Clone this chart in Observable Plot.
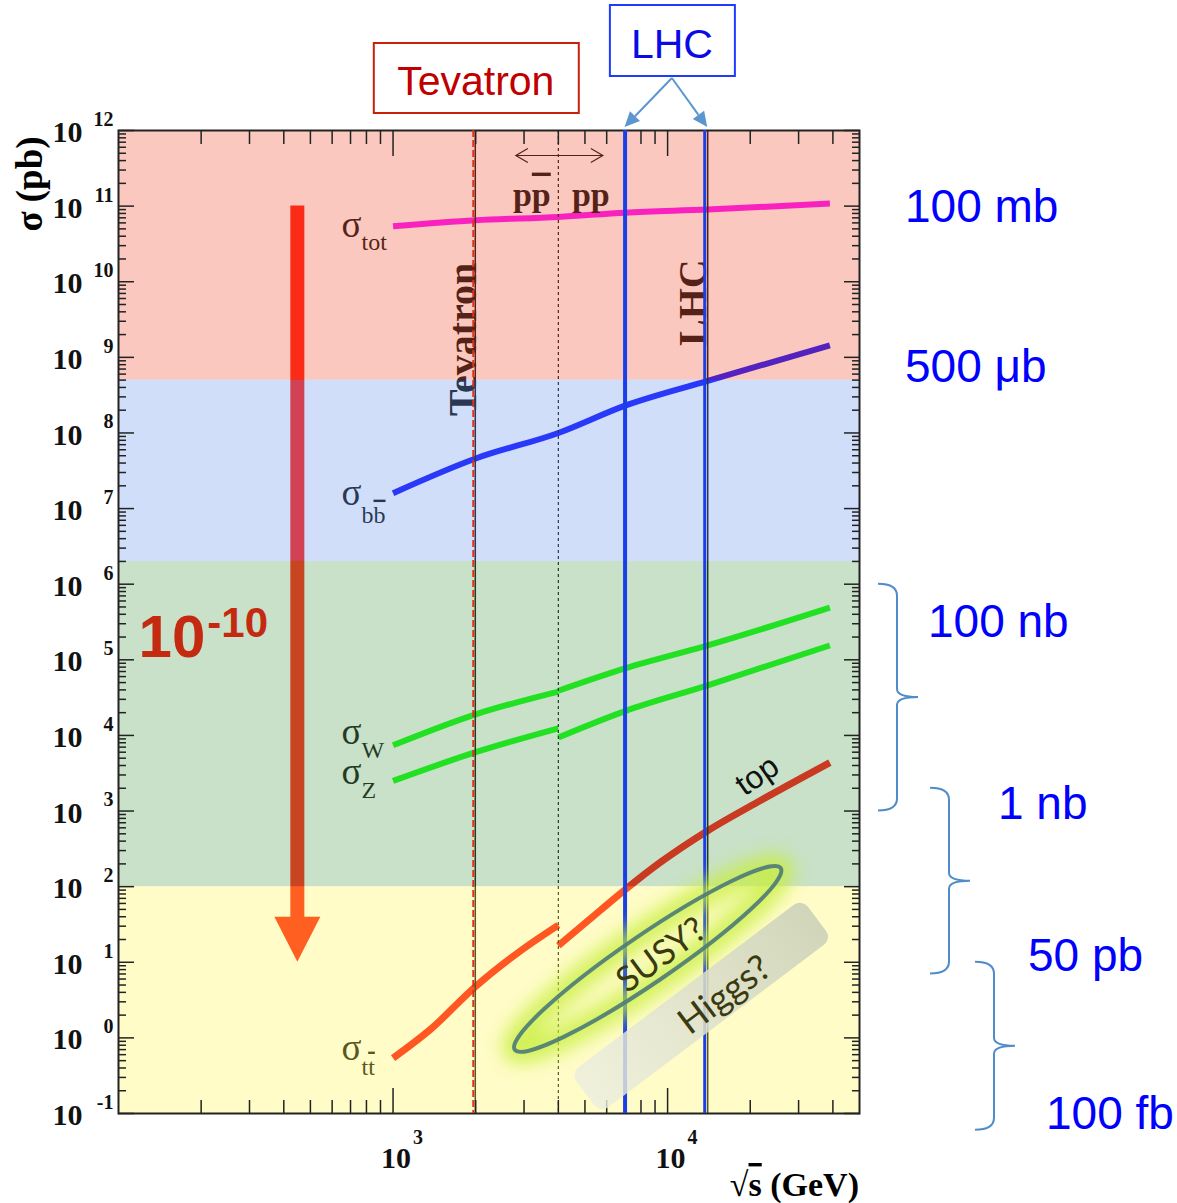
<!DOCTYPE html>
<html>
<head>
<meta charset="utf-8">
<script src="https://cdn.jsdelivr.net/npm/d3@7"></script>
<script src="https://cdn.jsdelivr.net/npm/@observablehq/plot@0.6"></script>
<style>
  html, body { margin: 0; padding: 0; background: #fff; }
  #chart { width: 1177px; height: 1203px; }
</style>
</head>
<body>
<div id="chart"></div>
<script>
// ---- Cross sections (pb) against centre-of-mass energy sqrt(s) (GeV) ----
const energyAll = [1000, 2000, 4000, 7000, 14000, 39000];
const sigmaTot = [5.4e10, 6.5e10, 7.2e10, 8.2e10, 9.0e10, 1.08e11];
const sigmaBB = [1.6e7, 4.6e7, 1.0e8, 2.3e8, 4.9e8, 1.44e9];

// W and Z: p-pbar branch below 4 TeV, pp branch above
const energyPPbar = [1000, 2000, 4000];
const energyPP = [4000, 7000, 14000, 39000];
const sigmaW_ppbar = [7.4e3, 1.9e4, 3.8e4];
const sigmaW_pp = [3.9e4, 7.7e4, 1.55e5, 4.9e5];
const sigmaZ_ppbar = [2.5e3, 6.0e3, 1.24e4];
const sigmaZ_pp = [9.4e3, 2.1e4, 4.6e4, 1.55e5];

// top-pair production
const energyTT_ppbar = [1000, 1370, 2000, 2900, 4000];
const sigmaTT_ppbar = [0.54, 1.3, 4.8, 14.0, 31];
const energyTT_pp = [4000, 5700, 7000, 9400, 14000, 21800, 39000];
const sigmaTT_pp = [16.6, 49, 91, 209, 550, 1380, 4370];

// collider energies (GeV)
const tevatron = 1960;
const ppSplit = 4000;
const lhcEnergies = [7000, 14000];

// rate bands (pb): lower edge, upper edge
const bandLow = [0.1, 100, 2e6, 5e8];
const bandHigh = [100, 2e6, 5e8, 1e12];
const bandColor = ["#fff662", "#62a962", "#79a1f1", "#f16245"];

// axis ticks
const yTickExponents = [-1, 0, 1, 2, 3, 4, 5, 6, 7, 8, 9, 10, 11, 12];
const xTickExponents = [3, 4];
const xDomain = [100, 50000];
const yDomain = [0.1, 1e12];

// unit labels on the right (value in pb)
const unitText = ["100 mb", "500 μb", "100 nb", "1 nb", "50 pb", "100 fb"];
const unitValue = [1e11, 5e8, 1e5, 1e3, 50, 0.1];

// braces grouping the unit labels (pb)
const braceTop = [1e6, 2e3, 10];
const braceBottom = [1e3, 7, 0.06];

// span of the big rate arrow (pb) and its energy position (GeV)
const arrowEnergy = 450;
const arrowFrom = 1e11;
const arrowTo = 10;

// ---- derived tables ----
const pts = (xs, ys) => xs.map((x, i) => ({x, y: ys[i]}));
const decades = yTickExponents.map(e => Math.pow(10, e));
const minorY = d3.range(-1, 12).flatMap(k => d3.range(2, 10).map(m => m * Math.pow(10, k)));
const majorX = xTickExponents.map(e => Math.pow(10, e));
const minorX = d3.range(2, 5).flatMap(k => d3.range(2, 10).map(m => m * Math.pow(10, k))).filter(v => v < xDomain[1]);
const bands = bandLow.map((lo, i) => ({lo, hi: bandHigh[i], color: bandColor[i]}));

const serif = "'Liberation Serif','Times New Roman',serif";
const sans = "'Liberation Sans',Arial,sans-serif";
const lato = "Lato,'Open Sans',sans-serif";

// a mark that draws free SVG using the plot's own x/y scales
function layer(draw) {
  return (index, scales, values, dimensions) => {
    const g = d3.create("svg:g").attr("text-anchor", "start");
    draw(g, scales.x, scales.y, dimensions);
    return g.node();
  };
}

function addText(g, {x, y, text, size, family = serif, weight = "normal", anchor = "start", fill = "#000", rotate = 0}) {
  return g.append("text")
    .attr("transform", `translate(${x},${y})` + (rotate ? ` rotate(${rotate})` : ""))
    .attr("font-family", family).attr("font-size", size).attr("font-weight", weight)
    .attr("text-anchor", anchor).attr("fill", fill).text(text);
}

// labels of the curves (main glyph + subscript, some with bars)
const sigmaLabels = [
  {x: energyAll[0], y: sigmaTot[0], sub: [["tot", false]], dy: 11, subDy: 13},
  {x: energyAll[0], y: sigmaBB[0], sub: [["b", false], ["b", true]], dy: 12, subDy: 18},
  {x: energyPPbar[0], y: sigmaW_ppbar[0], sub: [["W", false]], dy: -1, subDy: 14},
  {x: energyPPbar[0], y: sigmaZ_ppbar[0], sub: [["Z", false]], dy: 4, subDy: 14},
  {x: energyTT_ppbar[0], y: sigmaTT_ppbar[0], sub: [["t", false], ["t", true]], dy: 2, subDy: 15}
];

// parts of the original figure that sit below the tinted bands
const underBands = layer((g, x, y) => {
  // big rate arrow
  const ax = x(arrowEnergy), y0 = y(arrowFrom), y1 = y(arrowTo);
  g.append("path")
    .attr("d", `M${ax - 7},${y0}H${ax + 7}V${y1 - 45}H${ax + 23}L${ax},${y1}L${ax - 23},${y1 - 45}H${ax - 7}Z`)
    .attr("fill", "#ff1000");

  for (const s of sigmaLabels) {
    const t = g.append("text")
      .attr("x", x(s.x) - 51).attr("y", y(s.y) + s.dy).attr("text-anchor", "start")
      .attr("font-family", serif).attr("font-size", 37).attr("fill", "#000")
      .text("σ");
    s.sub.forEach(([txt, bar], i) => {
      const ts = t.append("tspan").attr("font-size", 24).text(txt);
      if (i === 0) ts.attr("dy", s.subDy);
      if (bar) ts.style("text-decoration", "overline");
    });
  }

  // rotated collider names
  addText(g, {x: x(tevatron) + 3, y: y(1.7e9), text: "Tevatron", size: 40, weight: "bold", anchor: "middle", rotate: -90});
  addText(g, {x: x(lhcEnergies[1]) - 1, y: y(5.2e9), text: "LHC", size: 40, weight: "bold", anchor: "middle", rotate: -90});

  // p-pbar / pp switch
  const xs = x(ppSplit), ya = y(4.6e11);
  g.append("path")
    .attr("d", `M${xs - 42},${ya}H${xs + 45}M${xs - 30},${ya - 7}L${xs - 42},${ya}L${xs - 30},${ya + 7}M${xs + 33},${ya - 7}L${xs + 45},${ya}L${xs + 33},${ya + 7}`)
    .attr("fill", "none").attr("stroke", "#000").attr("stroke-width", 1.2);
  const pl = addText(g, {x: xs - 26, y: y(1.0e11), text: "p", size: 34, weight: "bold", anchor: "middle"});
  pl.append("tspan").style("text-decoration", "overline").text("p");
  addText(g, {x: xs + 33, y: y(1.0e11), text: "pp", size: 34, weight: "bold", anchor: "middle"});
});

// annotations on top of the bands
const susyAt = {x: 8500, y: 10.9};
const higgsAt = {x: 13300, y: 2.6};
const topAt = {x: 21200, y: 2950};

const overBands = layer((g, x, y) => {
  const defs = g.append("defs");
  defs.append("filter").attr("id", "halo").attr("x", "-40%").attr("y", "-90%").attr("width", "180%").attr("height", "280%")
    .append("feGaussianBlur").attr("stdDeviation", 9);
  const grad = defs.append("linearGradient").attr("id", "higgsFill").attr("x1", "0").attr("x2", "1").attr("y1", "0").attr("y2", "0");
  grad.append("stop").attr("offset", "0").attr("stop-color", "#eceee0").attr("stop-opacity", 0.8);
  grad.append("stop").attr("offset", "1").attr("stop-color", "#cdd2b8").attr("stop-opacity", 0.92);

  const cx = x(susyAt.x), cy = y(susyAt.y);
  const e = g.append("g").attr("transform", `translate(${cx},${cy}) rotate(-34.3)`);
  e.append("ellipse").attr("rx", 161).attr("ry", 24).attr("fill", "none")
    .attr("stroke", "#c6ee3a").attr("stroke-width", 24).attr("opacity", 0.8).attr("filter", "url(#halo)");
  e.append("ellipse").attr("rx", 161).attr("ry", 24).attr("fill", "none")
    .attr("stroke", "#4d7a78").attr("stroke-width", 4).attr("opacity", 0.9);

  const hx = x(higgsAt.x), hy = y(higgsAt.y);
  g.append("rect").attr("x", -145).attr("y", -25).attr("width", 290).attr("height", 50).attr("rx", 10)
    .attr("transform", `translate(${hx},${hy}) rotate(-37)`).attr("fill", "url(#higgsFill)");

  addText(g, {x: cx + 12, y: cy - 6, text: "SUSY?", size: 35, family: lato, anchor: "middle", fill: "#3a3a10", rotate: -36})
    .attr("dominant-baseline", "central");
  addText(g, {x: hx + 22, y: hy - 13, text: "Higgs?", size: 36, family: lato, anchor: "middle", fill: "#3a3a10", rotate: -37})
    .attr("dominant-baseline", "central");
  addText(g, {x: x(topAt.x), y: y(topAt.y), text: "top", size: 32, family: sans, anchor: "middle", fill: "#111", rotate: -35})
    .attr("dominant-baseline", "central");

  // rate ratio of the arrow
  const ax = x(arrowEnergy), ly = y(2e5);
  addText(g, {x: ax - 92, y: ly + 20, text: "10", size: 60, family: sans, weight: "bold", anchor: "end", fill: "#c42a10"});
  addText(g, {x: ax - 90, y: ly + 0, text: "-10", size: 42, family: sans, weight: "bold", anchor: "start", fill: "#c42a10"});
});

// everything around the frame
const outside = layer((g, x, y, dims) => {
  const right = dims.width - dims.marginRight;

  // axis titles
  addText(g, {x: 42, y: 184, text: "σ (pb)", size: 37, weight: "bold", anchor: "middle", rotate: -90});
  const st = addText(g, {x: right, y: 1196, text: "√", size: 34, weight: "bold", anchor: "end"});
  st.append("tspan").style("text-decoration", "overline").text("s");
  st.append("tspan").text(" (GeV)");

  // unit labels
  const unitDx = [46, 46, 69, 139, 169, 187];
  const unitDy = [16, 2, -22, 8, 62, 16];
  unitText.forEach((t, i) => {
    addText(g, {x: right + unitDx[i], y: y(unitValue[i]) + unitDy[i], text: t, size: 46, family: sans, fill: "#0000ff"});
  });

  // braces
  const braceDx = [19, 71, 116];
  braceTop.forEach((top, i) => {
    const x0 = right + braceDx[i], xv = x0 + 19, xt = x0 + 40;
    const y0 = y(top), y1 = y(braceBottom[i]), ym = (y0 + y1) / 2;
    g.append("path")
      .attr("d", `M${x0},${y0}Q${xv},${y0} ${xv},${y0 + 12}V${ym - 8}Q${xv},${ym} ${xt},${ym}Q${xv},${ym} ${xv},${ym + 8}V${y1 - 12}Q${xv},${y1} ${x0},${y1}`)
      .attr("fill", "none").attr("stroke", "#4f8cc9").attr("stroke-width", 2);
  });

  // collider boxes
  const tx = x(tevatron) + 3;
  g.append("rect").attr("x", tx - 102).attr("y", 43).attr("width", 205).attr("height", 70)
    .attr("fill", "#fff").attr("stroke", "#c8200a").attr("stroke-width", 2);
  addText(g, {x: tx, y: 95, text: "Tevatron", size: 41, family: sans, anchor: "middle", fill: "#c00000"});

  const lx = (x(lhcEnergies[0]) + x(lhcEnergies[1])) / 2 + 6;
  g.append("rect").attr("x", lx - 62).attr("y", 5).attr("width", 125).attr("height", 71)
    .attr("fill", "#fff").attr("stroke", "#1e3cff").attr("stroke-width", 2);
  addText(g, {x: lx, y: 58, text: "LHC", size: 41, family: sans, anchor: "middle", fill: "#0a0ae6"});

  // arrows from the LHC box to the two LHC energies
  for (const e of lhcEnergies) {
    const x1 = x(e), y1 = y(yDomain[1]) - 3, x0 = lx, y0 = 78;
    const ang = Math.atan2(y1 - y0, x1 - x0), L = 15, w = 7;
    const bx = x1 - L * Math.cos(ang), by = y1 - L * Math.sin(ang);
    g.append("line").attr("x1", x0).attr("y1", y0).attr("x2", bx).attr("y2", by)
      .attr("stroke", "#5b96d0").attr("stroke-width", 2);
    g.append("path")
      .attr("d", `M${x1},${y1}L${bx + w * Math.sin(ang)},${by - w * Math.cos(ang)}L${bx - w * Math.sin(ang)},${by + w * Math.cos(ang)}Z`)
      .attr("fill", "#5b96d0");
  }
});

const tickStyle = {tickFormat: () => "", label: null, stroke: "#222", strokeWidth: 1.5};
const curve = {x: "x", y: "y", strokeLinecap: "butt", curve: "monotone-x"};

const chart = Plot.plot({
  width: 1177,
  height: 1203,
  marginLeft: 118,
  marginRight: 318,
  marginTop: 130,
  marginBottom: 90,
  style: {background: "#fff", fontFamily: serif},
  x: {type: "log", domain: xDomain, axis: null},
  y: {type: "log", domain: yDomain, axis: null},
  color: {type: "identity"},
  marks: [
    // cross-section curves
    Plot.line(pts(energyAll, sigmaTot), {...curve, stroke: "#ff00ff", strokeWidth: 6}),
    Plot.line(pts(energyAll, sigmaBB), {...curve, stroke: "#0000ff", strokeWidth: 6}),
    Plot.line(pts(energyPPbar, sigmaW_ppbar), {...curve, stroke: "#00ff00", strokeWidth: 6}),
    Plot.line(pts(energyPP, sigmaW_pp), {...curve, stroke: "#00ff00", strokeWidth: 6}),
    Plot.line(pts(energyPPbar, sigmaZ_ppbar), {...curve, stroke: "#00ff00", strokeWidth: 6}),
    Plot.line(pts(energyPP, sigmaZ_pp), {...curve, stroke: "#00ff00", strokeWidth: 6}),
    Plot.line(pts(energyTT_ppbar, sigmaTT_ppbar), {...curve, stroke: "#ff0000", strokeWidth: 7}),
    Plot.line(pts(energyTT_pp, sigmaTT_pp), {...curve, stroke: "#ff0000", strokeWidth: 7}),

    // collider energies of the original figure
    Plot.ruleX([tevatron], {stroke: "#000", strokeWidth: 1.5, dx: 2}),
    Plot.ruleX([ppSplit], {stroke: "#000", strokeWidth: 1.2, strokeDasharray: "3,3"}),
    Plot.ruleX([lhcEnergies[1]], {stroke: "#000", strokeWidth: 1.5}),

    underBands,

    // tinted rate bands
    Plot.rect(bands, {x1: () => xDomain[0], x2: () => xDomain[1], y1: "lo", y2: "hi", fill: "color", fillOpacity: 0.35}),

    // ticks on all four sides, pointing inward
    Plot.axisY(decades, {anchor: "left", tickSize: -16, ...tickStyle}),
    Plot.axisY(minorY, {anchor: "left", tickSize: -8, ...tickStyle}),
    Plot.axisY(decades, {anchor: "right", tickSize: -16, ...tickStyle}),
    Plot.axisY(minorY, {anchor: "right", tickSize: -8, ...tickStyle}),
    Plot.axisX(majorX, {anchor: "bottom", tickSize: -25, ...tickStyle}),
    Plot.axisX(minorX, {anchor: "bottom", tickSize: -13, ...tickStyle}),
    Plot.axisX(majorX, {anchor: "top", tickSize: -25, ...tickStyle}),
    Plot.axisX(minorX, {anchor: "top", tickSize: -13, ...tickStyle}),
    Plot.frame({stroke: "#222", strokeWidth: 2}),

    // highlighted collider energies
    Plot.ruleX([tevatron], {stroke: "#e0301a", strokeWidth: 2, strokeDasharray: "7,3"}),
    Plot.ruleX([lhcEnergies[0]], {stroke: "#1b3fe6", strokeWidth: 4}),
    Plot.ruleX([lhcEnergies[1]], {stroke: "#1b3fe6", strokeWidth: 3, dx: -3}),

    overBands,

    // tick labels 10^n
    Plot.text(decades, {y: d => d, frameAnchor: "left", text: () => "10", textAnchor: "end", dx: -36, dy: 2, fontSize: 30, fontWeight: "bold", fill: "#111"}),
    Plot.text(decades, {y: d => d, frameAnchor: "left", text: d => String(Math.round(Math.log10(d))), textAnchor: "end", dx: -5, dy: -11, fontSize: 20, fontWeight: "bold", fill: "#111"}),
    Plot.text(majorX, {x: d => d, frameAnchor: "bottom", text: () => "10", textAnchor: "middle", dx: 3, dy: 54, fontSize: 30, fontWeight: "bold", fill: "#111"}),
    Plot.text(majorX, {x: d => d, frameAnchor: "bottom", text: d => String(Math.round(Math.log10(d))), textAnchor: "start", dx: 20, dy: 30, fontSize: 20, fontWeight: "bold", fill: "#111"}),

    outside
  ]
});

document.getElementById("chart").append(chart);
</script>
</body>
</html>
